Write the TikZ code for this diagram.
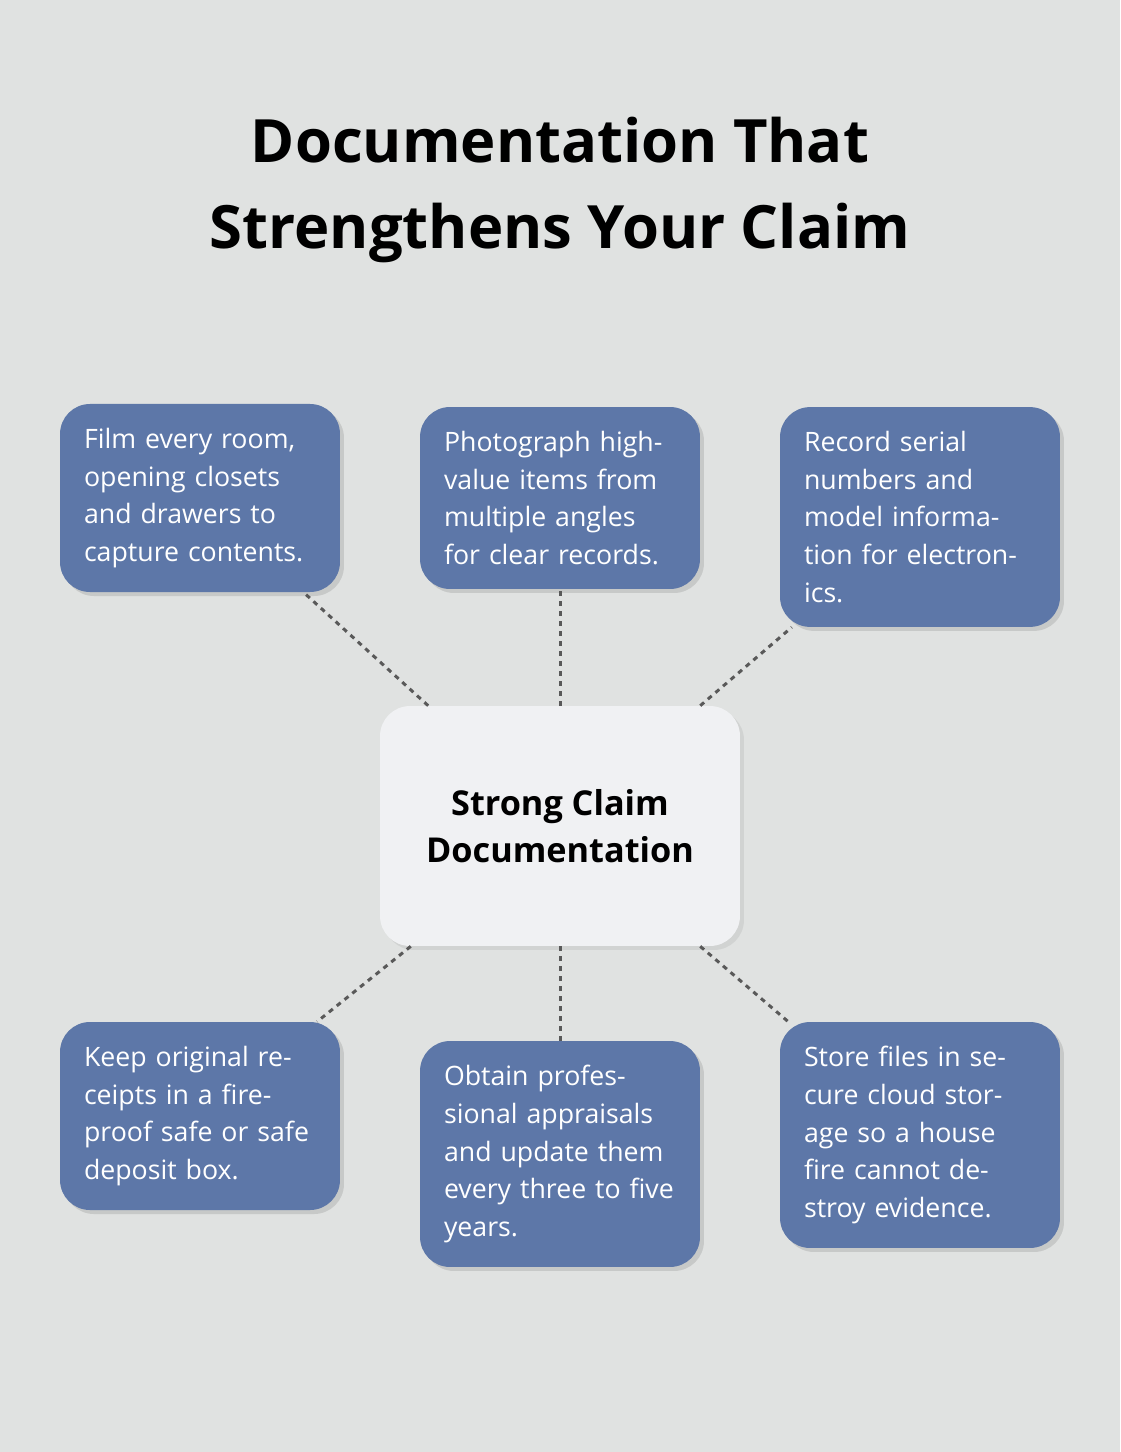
\documentclass[tikz,border=0pt]{standalone}
\usepackage{fontspec}
\setmainfont{Open Sans}
\usepackage{tikz}
\usetikzlibrary{shadows}
\definecolor{bgcol}{HTML}{E0E2E1}
\definecolor{boxcol}{HTML}{5D77A8}
\definecolor{hubcol}{HTML}{F0F1F3}
\tikzset{my_box/.style={rectangle, rounded corners=0.6cm, fill=boxcol, text=white, text width=4.64cm, inner sep=0.48cm, align=left, font=\fontsize{15.2}{21.5}\selectfont, drop shadow={opacity=0.25, shadow xshift=0.08cm, shadow yshift=-0.08cm}}}
\tikzset{my_hub/.style={rectangle, rounded corners=0.6cm, fill=hubcol, minimum width=7.2cm, minimum height=4.8cm, align=center, font=\bfseries\fontsize{19.5}{27}\selectfont, drop shadow={opacity=0.15, shadow xshift=0.08cm, shadow yshift=-0.08cm}}}
\tikzset{my_link/.style={draw=black!65, line width=0.06cm, dash pattern=on 0.1cm off 0.1cm}}

\begin{document}
\begin{tikzpicture}[x=0.02cm, y=-0.02cm]
    \fill[bgcol] (0,0) rectangle (1120,1452);
    \useasboundingbox (0,0) rectangle (1120,1452);
    \node[align=center, font=\bfseries\fontsize{34}{49}\selectfont] (title) at (560,190) {Documentation That\\Strengthens Your Claim};

    \node[my_hub] (hub) at (560,826) {Strong Claim\\Documentation};
    \node[my_box] (film) at (200,498) {Film every room, opening closets and drawers to capture contents.};
    \node[my_box] (photo) at (560,498) {Photograph high-value items from multiple angles for clear records.};
    \node[my_box] (serial) at (920,517) {Record serial numbers and model information for electronics.};
    \node[my_box] (receipt) at (200,1116) {Keep original receipts in a fireproof safe or safe deposit box.};
    \node[my_box] (apprais) at (560,1154) {Obtain professional appraisals and update them every three to five years.};
    \node[my_box] (cloud) at (920,1135) {Store files in secure cloud storage so a house fire cannot destroy evidence.};

    \foreach \n in {film, photo, serial, receipt, apprais, cloud}
        \draw[my_link] (hub) -- (\n);
\end{tikzpicture}
\end{document}
